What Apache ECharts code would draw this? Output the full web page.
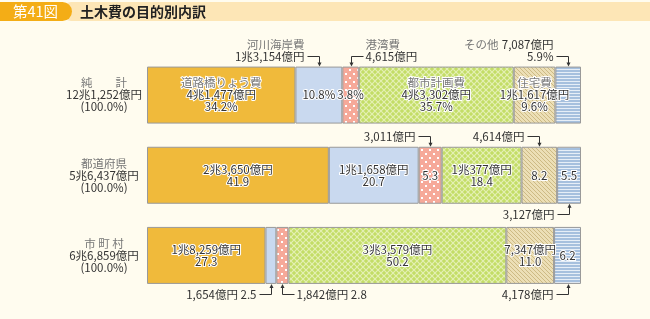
<!DOCTYPE html>
<html><head><meta charset="utf-8">
<script src="https://cdn.jsdelivr.net/npm/echarts@6/dist/echarts.min.js"></script>
<style>html,body{margin:0;padding:0;background:#FFFCEF;}#c{width:650px;height:319px;}</style>
</head><body><div id="c"></div>
<script>
// ---- data ----
const rowNames = ['純　　計', '都道府県', '市 町 村'];
const rowTotals = ['12兆1,252億円', '5兆6,437億円', '6兆6,859億円'];
const purposes = ['道路橋りょう費', '河川海岸費', '港湾費', '都市計画費', '住宅費', 'その他'];
const roadPct = [34.2, 41.9, 27.3];
const riverPct = [10.8, 20.7, 2.5];
const portPct = [3.8, 5.3, 2.8];
const cityPct = [35.7, 18.4, 50.2];
const housingPct = [9.6, 8.2, 11.0];
const otherPct = [5.9, 5.5, 6.2];
const roadAmt = ['4兆1,477億円', '2兆3,650億円', '1兆8,259億円'];
const riverAmt = ['1兆3,154億円', '1兆1,658億円', '1,654億円'];
const portAmt = ['4,615億円', '3,011億円', '1,842億円'];
const cityAmt = ['4兆3,302億円', '1兆377億円', '3兆3,579億円'];
const housingAmt = ['1兆1,617億円', '4,614億円', '7,347億円'];
const otherAmt = ['7,087億円', '3,127億円', '4,178億円'];
// label content inside bars: full = name+amount+pct%, pp = pct%, ap = amount+pct, p = pct, '' = none
const roadMode = ['full', 'ap', 'ap'];
const riverMode = ['pp', 'ap', ''];
const portMode = ['pp', 'p', ''];
const cityMode = ['full', 'ap', 'ap'];
const housingMode = ['full', 'p', 'ap'];
const otherMode = ['', 'p', 'p'];

const pcts = [roadPct, riverPct, portPct, cityPct, housingPct, otherPct];
const amts = [roadAmt, riverAmt, portAmt, cityAmt, housingAmt, otherAmt];
const modes = [roadMode, riverMode, portMode, cityMode, housingMode, otherMode];

// outside annotations: row, segment, side, text direction, kind
const anns = [
  {row: 0, seg: 1, side: 'top', dir: 'left', kind: 'nameAmt'},
  {row: 0, seg: 2, side: 'top', dir: 'right', kind: 'nameAmt'},
  {row: 0, seg: 5, side: 'top', dir: 'left', kind: 'nameInlinePct'},
  {row: 1, seg: 2, side: 'top', dir: 'left', kind: 'amt'},
  {row: 1, seg: 4, side: 'top', dir: 'left', kind: 'amt'},
  {row: 1, seg: 5, side: 'bottom', dir: 'left', kind: 'amt'},
  {row: 2, seg: 1, side: 'bottom', dir: 'left', kind: 'amtPct'},
  {row: 2, seg: 2, side: 'bottom', dir: 'right', kind: 'amtPct'},
  {row: 2, seg: 5, side: 'bottom', dir: 'left', kind: 'amt'}
];

// ---- patterns ----
function pat(w, h, bg, draw) {
  const c = document.createElement('canvas'); c.width = w; c.height = h;
  const g = c.getContext('2d'); g.fillStyle = bg; g.fillRect(0, 0, w, h); draw(g);
  return {image: c, repeat: 'repeat'};
}
const pinkPat = pat(8, 8, '#F6A999', g => {
  g.fillStyle = '#FFFFFF';
  g.fillRect(1, 1, 2, 2); g.fillRect(5, 5, 2, 2);
});
const greenPat = pat(6, 6, '#C3DD66', g => {
  g.strokeStyle = '#E4F0B4'; g.lineWidth = 1.2;
  g.beginPath(); g.moveTo(0, 0); g.lineTo(6, 6); g.moveTo(6, 0); g.lineTo(0, 6); g.stroke();
});
const tanPat = pat(4, 4, '#ECDFB6', g => {
  g.strokeStyle = '#C9B57E'; g.lineWidth = 0.9;
  g.beginPath(); g.moveTo(-1, -1); g.lineTo(5, 5); g.moveTo(-1, 3); g.lineTo(1, 5); g.moveTo(3, -1); g.lineTo(5, 1); g.stroke();
});
const bluePat = pat(3, 3, '#A6C0DE', g => {
  g.fillStyle = '#E6EEF7'; g.fillRect(0, 0, 3, 1);
});
const colors = ['#F0BA3B', '#C9D9EF', pinkPat, greenPat, tanPat, bluePat];

const FONT = '"Noto Sans CJK JP", "Noto Sans", sans-serif';

function inLabel(si, ri) {
  const m = modes[si][ri];
  const p = pcts[si][ri].toFixed(1);
  if (m === 'full') return '{n|' + purposes[si] + '}\n{v|' + amts[si][ri] + '}\n{v|' + p + '%}';
  if (m === 'pp') return '{v|' + p + '%}';
  if (m === 'ap') return '{v|' + amts[si][ri] + '}\n{v|' + p + '}';
  if (m === 'p') return '{v|' + p + '}';
  return '';
}

const series = purposes.map((name, si) => ({
  type: 'bar', name, stack: 'all', barWidth: 57,
  data: pcts[si],
  itemStyle: {color: colors[si], borderColor: '#999', borderWidth: 1},
  label: {
    show: true, position: 'inside',
    formatter: p => inLabel(si, p.dataIndex),
    rich: {
      n: {fontFamily: FONT, fontSize: 11.5, color: '#777', lineHeight: 12, textBorderColor: '#fff', textBorderWidth: 2},
      v: {fontFamily: FONT, fontSize: 11.5, color: '#333', lineHeight: 12, textBorderColor: '#fff', textBorderWidth: 2}
    }
  },
  emphasis: {disabled: true}
}));

const chart = echarts.init(document.getElementById('c'), null, {renderer: 'canvas'});
chart.setOption({
  animation: false,
  backgroundColor: '#FFFCEF',
  grid: {left: 147, right: 69, top: 55, bottom: 23.5},
  xAxis: {type: 'value', min: 0, max: 100, show: false},
  yAxis: {
    type: 'category', inverse: true, data: rowNames,
    axisLine: {show: false}, axisTick: {show: false},
    axisLabel: {
      align: 'center', margin: 43,
      formatter: (v, i) => '{n|' + v + '}\n{v|' + rowTotals[i] + '}\n{v|(100.0%)}',
      rich: {
        n: {fontFamily: FONT, fontSize: 11.5, color: '#777', lineHeight: 12, align: 'center'},
        v: {fontFamily: FONT, fontSize: 11.5, color: '#333', lineHeight: 12, align: 'center'}
      }
    }
  },
  series
});

// ---- title + annotations ----
const gfx = [
  {type: 'rect', shape: {x: 62, y: 2, width: 600, height: 19, r: [9, 0, 0, 9]}, style: {fill: '#FDE6B6'}},
  {type: 'rect', shape: {x: 0, y: 2, width: 72, height: 19, r: [0, 9.5, 9.5, 0]}, style: {fill: '#F4AD16'}},
  {type: 'text', style: {text: '第41図', x: 13, y: 11.5, textVerticalAlign: 'middle', font: '14.5px ' + FONT, fill: '#fff'}},
  {type: 'text', style: {text: '土木費の目的別内訳', x: 80, y: 11.5, textVerticalAlign: 'middle', font: 'bold 14px ' + FONT, fill: '#222'}}
];

const halfBar = 28.5;
anns.forEach(a => {
  let cum = 0;
  for (let s = 0; s < a.seg; s++) cum += pcts[s][a.row];
  const mid = cum + pcts[a.seg][a.row] / 2;
  const pt = chart.convertToPixel({gridIndex: 0}, [mid, a.row]);
  const ax = Math.round(pt[0]) + 0.5;
  const edge = a.side === 'top' ? pt[1] - halfBar : pt[1] + halfBar;
  const ey = Math.round(a.side === 'top' ? edge - 11 : edge + 10) + 0.5;
  const ex = a.dir === 'left' ? ax - 12 : ax + 12;
  gfx.push({type: 'polyline', shape: {points: [[ex, ey], [ax, ey], [ax, a.side === 'top' ? edge - 3 : edge + 3]]}, style: {stroke: '#333', lineWidth: 1, fill: null}});
  const tip = a.side === 'top' ? [[ax - 2, edge - 4], [ax + 2, edge - 4], [ax, edge]] : [[ax - 2, edge + 4], [ax + 2, edge + 4], [ax, edge]];
  gfx.push({type: 'polygon', shape: {points: tip}, style: {fill: '#333'}});
  const tx = a.dir === 'left' ? ex - 3 : ex + 2;
  const align = a.dir === 'left' ? 'right' : 'left';
  const amt = amts[a.seg][a.row];
  const p = pcts[a.seg][a.row].toFixed(1);
  let lines;
  if (a.kind === 'nameAmt') lines = ['{n|' + purposes[a.seg] + '}', '{v|' + amt + '}'];
  else if (a.kind === 'nameInlinePct') lines = ['{n|' + purposes[a.seg] + '} {v|' + amt + '}', '{v|' + p + '%}'];
  else if (a.kind === 'amtPct') lines = ['{v|' + amt + ' ' + p + '}'];
  else lines = ['{v|' + amt + '}'];
  lines.forEach((t, k) => {
    gfx.push({type: 'text', style: {
      text: t, x: tx, y: ey - (lines.length - 1 - k) * 12, align: align, verticalAlign: 'middle',
      rich: {
        n: {fontFamily: FONT, fontSize: 11.5, fill: '#777'},
        v: {fontFamily: FONT, fontSize: 11.5, fill: '#333'}
      }
    }});
  });
});
chart.setOption({graphic: gfx});
</script></body></html>
